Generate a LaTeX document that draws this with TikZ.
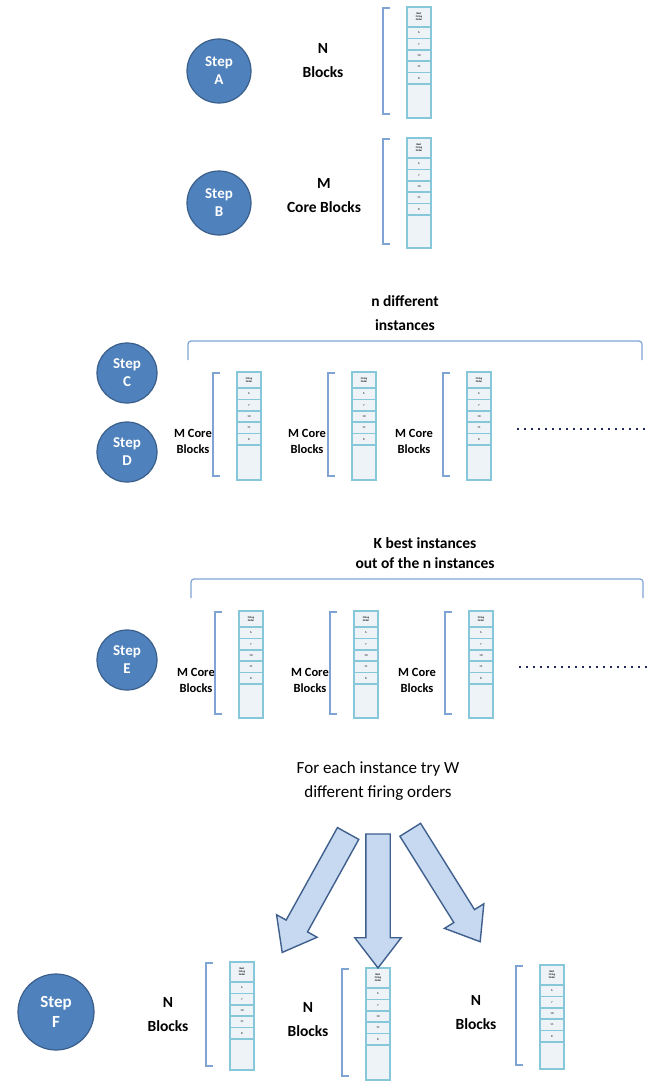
\documentclass[tikz,border=0pt]{standalone}
\usepackage{fontspec}
\setmainfont{Carlito}
\usepackage{xcolor}
\usetikzlibrary{shapes.arrows,positioning,calc}
\definecolor{stepblue}{HTML}{4F81BD}
\definecolor{stepedge}{HTML}{3A5F8B}
\definecolor{colline}{HTML}{86C8DA}
\definecolor{colfill}{HTML}{EDF3F6}
\definecolor{brkblue}{HTML}{7FA3D2}
\definecolor{arrfill}{HTML}{C6D9F1}
\definecolor{arredge}{HTML}{3F5F8C}
\definecolor{dotnavy}{HTML}{1F2A5A}
\begin{document}
\begin{tikzpicture}[x=1pt,y=-1pt,
  stepc/.style={circle,draw=stepedge,line width=1.2pt,fill=stepblue,text=white,
    font=\fontsize{15}{18}\selectfont\bfseries,align=center,inner sep=0pt},
  lbl/.style={font=\fontsize{15.5}{24}\selectfont\bfseries,align=center},
  smlbl/.style={font=\fontsize{12.5}{16}\selectfont\bfseries,align=center},
  colbox/.style={draw=colline,line width=1.5pt},
  brk/.style={draw=brkblue,line width=1.2pt},
  bigbrk/.style={draw=brkblue,line width=1.2pt,rounded corners=3pt},
  hdtxt/.style={font=\fontsize{2.6}{3}\selectfont\bfseries,align=center,inner sep=0pt},
  numtxt/.style={font=\fontsize{3}{3}\selectfont,inner sep=0pt},
  barrow/.style={single arrow,draw=arredge,fill=arrfill,line width=1.4pt,
    inner sep=11.5pt,single arrow head extend=11pt,single arrow tip angle=75,minimum width=1pt},
  dots/.style={draw=dotnavy,line width=2pt,dash pattern=on 2pt off 5pt},
]
  \useasboundingbox (0,0) rectangle (658,1081);

  \node[stepc,minimum size=64pt] (sA) at (219,71) {Step\\A};
  \node[stepc,minimum size=64pt] (sB) at (219,203) {Step\\B};
  \node[stepc,minimum size=60pt] (sC) at (127,373) {Step\\C};
  \node[stepc,minimum size=60pt] (sD) at (127,452) {Step\\D};
  \node[stepc,minimum size=60pt] (sE) at (127,660) {Step\\E};
  \node[stepc,minimum size=76pt,font=\fontsize{17}{20}\selectfont\bfseries] (sF) at (56,1012) {Step\\F};

  \node[lbl] (lA) at (323,61) {N\\Blocks};
  \node[lbl] (lB) at (324,196) {M\\Core Blocks};
  \node[lbl] (tC) at (405,313) {n different\\instances};
  \node[lbl,font=\fontsize{15.5}{20}\selectfont\bfseries] (tE) at (425,553) {K best instances\\out of the n instances};
  \node[lbl,font=\fontsize{17}{24}\selectfont] (tF) at (378,781) {For each instance try W\\different firing orders};

  \foreach \i/\x/\y in {1/193/441,2/307/441,3/414/441,4/196/680,5/310/680,6/417/680} {
    \node[smlbl] (m\i) at (\x,\y) {M Core\\Blocks};
  }
  \foreach \i/\x/\y in {1/168/1015,2/308/1020,3/476/1013} {
    \node[lbl] (f\i) at (\x,\y) {N\\Blocks};
  }

  \foreach \i/\cx/\cy/\ch/\hh/\hd in {a/407/7/111/20/{Best\\Firing\\Order},
      b/407/138/110/20/{Best\\Firing\\Order},
      c1/237/372/108/16/{Firing\\Order},c2/352/372/108/16/{Firing\\Order},c3/467/372/108/16/{Firing\\Order},
      e1/239/611/107/16/{Firing\\Order},e2/354/611/107/16/{Firing\\Order},e3/469/611/107/16/{Firing\\Order},
      f1/230/962/108/20/{Best\\Firing\\Order},f2/366/968/112/20/{Best\\Firing\\Order},f3/540/965/104/20/{Best\\Firing\\Order}} {
    \fill[colfill] (\cx,\cy) rectangle ++(24,\ch);
    \node[hdtxt] (\i-h) at (\cx+12,\cy+\hh/2) {\hd};
    \foreach \k/\v in {1/6,2/7,3/10,4/11,5/8} {
      \draw[colbox] (\cx,\cy+\hh+\k*11.4-11.4) -- ++(24,0);
      \node[numtxt] (\i-\k) at (\cx+12,\cy+\hh+\k*11.4-5.7) {\v};
    }
    \draw[colbox] (\cx,\cy+\hh+57) -- ++(24,0);
    \draw[colbox] (\cx,\cy) rectangle ++(24,\ch);
    \draw[brk] (\cx-17,\cy+1) -- (\cx-24,\cy+1) -- (\cx-24,\cy+\ch-4) -- (\cx-17,\cy+\ch-4);
  }

  \draw[bigbrk] (188,360) -- (188,341) -- (642,341) -- (642,360);
  \draw[bigbrk] (191,598) -- (191,579) -- (643,579) -- (643,598);

  \coordinate (d1a) at (517,429);
  \coordinate (d1b) at (648,429);
  \coordinate (d2a) at (519,667);
  \coordinate (d2b) at (650,667);
  \draw[dots] (d1a) -- (d1b);
  \draw[dots] (d2a) -- (d2b);

  \node[barrow,rotate=-119,minimum height=136pt] (arL) at (319,886) {};
  \node[barrow,rotate=-90,minimum height=134pt] (arM) at (378,893) {};
  \node[barrow,rotate=-58,minimum height=132pt] (arR) at (441,879) {};
\end{tikzpicture}
\end{document}
